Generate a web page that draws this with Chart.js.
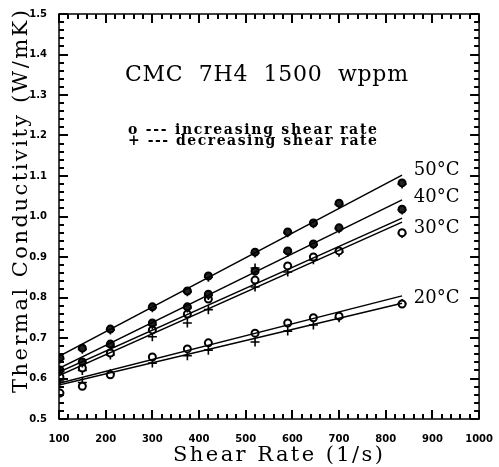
<!DOCTYPE html>
<html>
<head>
<meta charset="utf-8">
<script src="https://cdn.jsdelivr.net/npm/chart.js@4.4.1/dist/chart.umd.min.js"></script>
<style>
  html, body { margin: 0; padding: 0; background: #fff; }
  #wrap { width: 499px; height: 467px; position: relative; }
</style>
</head>
<body>
<div id="wrap"><canvas id="chart"></canvas></div>
<script>
/* ── Data ── */
const shear  = [102, 150, 210, 300, 375, 420, 520, 590, 645, 700, 835];

const k50Inc = [0.651, 0.675, 0.722, 0.777, 0.816, 0.853, 0.912, 0.962, 0.984, 1.033, 1.083];
const k50Dec = [0.648, 0.672, 0.720, 0.775, 0.814, 0.850, 0.910, 0.960, 0.982, 1.030, 1.080];
const k40Inc = [0.621, 0.641, 0.685, 0.737, 0.777, 0.808, 0.865, 0.915, 0.932, 0.972, 1.018];
const k40Dec = [0.618, 0.638, 0.680, 0.732, 0.774, 0.805, 0.873, 0.912, 0.930, 0.970, 1.016];
const k30Inc = [0.604, 0.626, 0.663, 0.720, 0.759, 0.796, 0.843, 0.878, 0.900, 0.915, 0.960];
const k30Dec = [0.598, 0.620, 0.658, 0.703, 0.737, 0.770, 0.826, 0.863, 0.893, 0.912, 0.958];
const k20Inc = [0.564, 0.581, 0.609, 0.653, 0.673, 0.688, 0.712, 0.737, 0.750, 0.754, 0.784];
const k20Dec = [0.594, 0.590, 0.612, 0.638, 0.656, 0.670, 0.690, 0.717, 0.732, 0.750, 0.785];

// fitted lines (end points)
const fitX     = [100, 835];
const fit50    = [0.655, 1.102];
const fit40    = [0.625, 1.041];
const fit30Inc = [0.616, 0.996];
const fit30Dec = [0.607, 0.986];
const fit20Inc = [0.588, 0.804];
const fit20Dec = [0.584, 0.786];

// curve labels
const tempLabels = ['50°C', '40°C', '30°C', '20°C'];
const tempLabelX = 860;
const tempLabelY = [1.115, 1.048, 0.972, 0.799];

const xTicks = { min: 100, max: 1000, step: 100, minor: 20 };
const yTicks = { min: 0.5, max: 1.5, step: 0.1, minor: 0.02 };

const titleText  = 'CMC  7H4  1500  wppm';
const legendRows = ['o --- increasing shear rate', '+ --- decreasing shear rate'];
const xTitle = 'Shear Rate (1/s)';
const yTitle = 'Thermal Conductivity (W/mK)';

/* ── Helpers ── */
const pts = (xv, yv) => xv.map((x, i) => ({ x, y: yv[i] }));

function markers(label, yv, plus, fill) {
  return {
    label, data: pts(shear, yv), showLine: false,
    pointStyle: plus ? 'cross' : 'circle',
    pointRadius: plus ? 4.5 : 3.5,
    borderColor: '#000', borderWidth: plus ? 1.6 : 2,
    backgroundColor: fill || '#fff',
  };
}

function fitLine(label, yv) {
  return {
    label, data: pts(fitX, yv), showLine: true,
    borderColor: '#000', borderWidth: 1.5, pointRadius: 0,
  };
}

// draw text stretched by letter spacing to a given width
function spacedText(ctx, text, x, y, width) {
  ctx.letterSpacing = '0px';
  const w = ctx.measureText(text).width;
  ctx.letterSpacing = ((width - w) / (text.length - 1)) + 'px';
  ctx.fillText(text, x, y);
  ctx.letterSpacing = '0px';
}

/* ── Frame + inward ticks ── */
const frame = {
  id: 'frame',
  afterDraw(chart) {
    const ctx = chart.ctx;
    const a = chart.chartArea;
    const sx = chart.scales.x, sy = chart.scales.y;
    ctx.save();
    ctx.globalAlpha = 1;
    ctx.globalCompositeOperation = 'source-over';
    ctx.setLineDash([]);
    ctx.fillStyle = '#000';
    ctx.strokeStyle = '#000';
    ctx.lineWidth = 1.5;
    ctx.strokeRect(a.left, a.top, a.right - a.left, a.bottom - a.top);
    const nX = Math.round((xTicks.max - xTicks.min) / xTicks.minor);
    for (let i = 0; i <= nX; i++) {
      const len = i % 5 === 0 ? 9 : 5;
      const px = Math.round(sx.getPixelForValue(xTicks.min + i * xTicks.minor));
      ctx.fillRect(px - 1, a.bottom - len, 2, len);
      ctx.fillRect(px - 1, a.top, 2, len);
    }
    const nY = Math.round((yTicks.max - yTicks.min) / yTicks.minor);
    for (let i = 0; i <= nY; i++) {
      const len = i % 5 === 0 ? 9 : 5;
      const py = Math.round(sy.getPixelForValue(yTicks.min + i * yTicks.minor));
      ctx.fillRect(a.left, py - 1, len, 2);
      ctx.fillRect(a.right - len, py - 1, len, 2);
    }
    ctx.restore();
  },
};

/* ── Text annotations ── */
const annotations = {
  id: 'annotations',
  afterDraw(chart) {
    const ctx = chart.ctx;
    const sx = chart.scales.x, sy = chart.scales.y;
    ctx.save();
    ctx.fillStyle = '#000';
    ctx.textAlign = 'left';
    ctx.textBaseline = 'alphabetic';

    ctx.font = '22px "DejaVu Serif"';
    spacedText(ctx, titleText, 125, 81, 283);

    ctx.font = 'bold 14px "DejaVu Serif"';
    spacedText(ctx, legendRows[0], 128, 134, 249);
    spacedText(ctx, legendRows[1], 128, 145, 249);

    ctx.font = '18px "DejaVu Serif"';
    ctx.textBaseline = 'middle';
    tempLabels.forEach((t, i) => {
      ctx.fillText(t, sx.getPixelForValue(tempLabelX), sy.getPixelForValue(tempLabelY[i]));
    });

    ctx.textBaseline = 'alphabetic';
    ctx.font = '21px "DejaVu Serif"';
    spacedText(ctx, xTitle, 173, 461, 210);

    ctx.translate(27, 393);
    ctx.rotate(-Math.PI / 2);
    spacedText(ctx, yTitle, 0, 0, 383);
    ctx.restore();
  },
};

/* ── Chart ── */
const tickFont = { family: 'DejaVu Sans', size: 10, weight: 'bold' };

new Chart(document.getElementById('chart'), {
  type: 'scatter',
  data: {
    datasets: [
      fitLine('fit 50', fit50),
      fitLine('fit 40', fit40),
      fitLine('fit 30 inc', fit30Inc),
      fitLine('fit 30 dec', fit30Dec),
      fitLine('fit 20 inc', fit20Inc),
      fitLine('fit 20 dec', fit20Dec),
      markers('50 inc', k50Inc, false, '#222'),
      markers('50 dec', k50Dec, true),
      markers('40 inc', k40Inc, false, '#222'),
      markers('40 dec', k40Dec, true),
      markers('30 inc', k30Inc, false, '#fff'),
      markers('30 dec', k30Dec, true),
      markers('20 inc', k20Inc, false, '#fff'),
      markers('20 dec', k20Dec, true),
    ],
  },
  options: {
    responsive: true, maintainAspectRatio: false, animation: false,
    layout: { padding: { top: 14, right: 15, left: 0, bottom: 0 } },
    plugins: { legend: { display: false }, tooltip: { enabled: false } },
    scales: {
      x: {
        type: 'linear', min: xTicks.min, max: xTicks.max,
        grid: { display: false }, border: { display: false },
        ticks: { stepSize: xTicks.step, color: '#000', font: tickFont, maxRotation: 0, padding: 6,
                 callback: v => String(v) },
        afterFit: s => { s.height = 48; },
      },
      y: {
        min: yTicks.min, max: yTicks.max,
        grid: { display: false }, border: { display: false },
        ticks: { stepSize: yTicks.step, color: '#000', font: tickFont, padding: 4,
                 callback: v => v.toFixed(1) },
        afterFit: s => { s.width = 59; },
      },
    },
  },
  plugins: [frame, annotations],
});
</script>
</body>
</html>
